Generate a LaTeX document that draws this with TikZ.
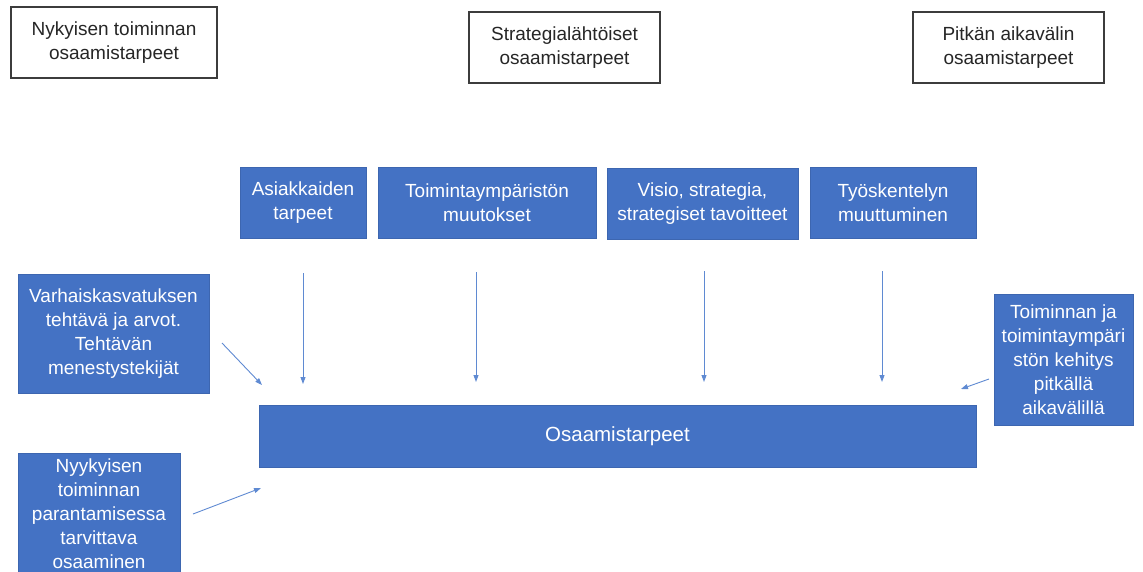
\documentclass[tikz,border=0pt]{standalone}
\usepackage{fontspec}
\setmainfont{Liberation Sans}
\usetikzlibrary{arrows.meta}
\definecolor{boxblue}{HTML}{4472C4}
\definecolor{boxedge}{HTML}{3D66B0}
\definecolor{arrowblue}{HTML}{5F8AD2}
\definecolor{textdark}{HTML}{262626}
\begin{document}
\begin{tikzpicture}[x=1pt,y=-1pt,
  headbox/.style={draw=textdark!90,line width=1.1pt,fill=white,text=textdark,
    align=center,inner sep=0pt,font=\fontsize{19}{24}\selectfont},
  bluebox/.style={draw=boxedge,line width=0.8pt,fill=boxblue,text=white,
    align=center,inner sep=0pt,font=\fontsize{19}{24}\selectfont},
  flow/.style={draw=arrowblue,line width=0.9pt,
    -{Triangle[length=7pt,width=5pt]}}]
\useasboundingbox (0,0) rectangle (1143,571);

% heading boxes
\node[headbox,minimum width=206pt,minimum height=71pt] (current) at (114,42.5)
  {Nykyisen toiminnan\\osaamistarpeet};
\node[headbox,minimum width=191pt,minimum height=71pt] (strategic) at (564.5,47.5)
  {Strategialähtöiset\\osaamistarpeet};
\node[headbox,minimum width=191pt,minimum height=71pt] (longterm) at (1008.5,47.5)
  {Pitkän aikavälin\\osaamistarpeet};

% driver boxes along the top
\node[bluebox,minimum width=126pt,minimum height=71pt] (customers) at (303,202.5)
  {Asiakkaiden\\tarpeet};
\node[bluebox,minimum width=218pt,minimum height=71pt] (environment) at (487,202.5)
  {Toimintaympäristön\\muutokset};
\node[bluebox,minimum width=191pt,minimum height=71pt] (vision) at (702.5,203.5)
  {Visio, strategia,\\strategiset tavoitteet};
\node[bluebox,minimum width=166pt,minimum height=71pt] (work) at (893,202.5)
  {Työskentelyn\\muuttuminen};

% side boxes
\node[bluebox,minimum width=191pt,minimum height=119pt] (mission) at (113.5,333.5)
  {Varhaiskasvatuksen\\tehtävä ja arvot.\\Tehtävän\\menestystekijät};
\node[bluebox,minimum width=162pt,minimum height=160pt] (improve) at (99,533)
  {};
\node[white,align=center,inner sep=0pt,font=\fontsize{19}{24}\selectfont]
  (improvetext) at (99,513.5)
  {Nyykyisen\\toiminnan\\parantamisessa\\tarvittava\\osaaminen};
\node[bluebox,minimum width=139pt,minimum height=131pt] (development) at (1063.5,359.5)
  {Toiminnan ja\\toimintaympäri\\stön kehitys\\pitkällä\\aikavälillä};

% central box
\node[bluebox,minimum width=717pt,minimum height=62pt,
  font=\fontsize{20.5}{24}\selectfont] (needs) at (617.5,436)
  {Osaamistarpeet};

% arrow end points
\coordinate (c1) at (303,273);  \coordinate (c1e) at (303,384);
\coordinate (e1) at (476,272);  \coordinate (e1e) at (476,382);
\coordinate (v1) at (704,271);  \coordinate (v1e) at (704,382);
\coordinate (w1) at (882,271);  \coordinate (w1e) at (882,382);
\coordinate (m1) at (222,343);  \coordinate (m1e) at (262,385);
\coordinate (i1) at (193,514);  \coordinate (i1e) at (261,488);
\coordinate (d1) at (989,379);  \coordinate (d1e) at (961,389);

\draw[flow] (c1) -- (c1e);
\draw[flow] (e1) -- (e1e);
\draw[flow] (v1) -- (v1e);
\draw[flow] (w1) -- (w1e);
\draw[flow] (m1) -- (m1e);
\draw[flow] (i1) -- (i1e);
\draw[flow] (d1) -- (d1e);
\end{tikzpicture}
\end{document}
